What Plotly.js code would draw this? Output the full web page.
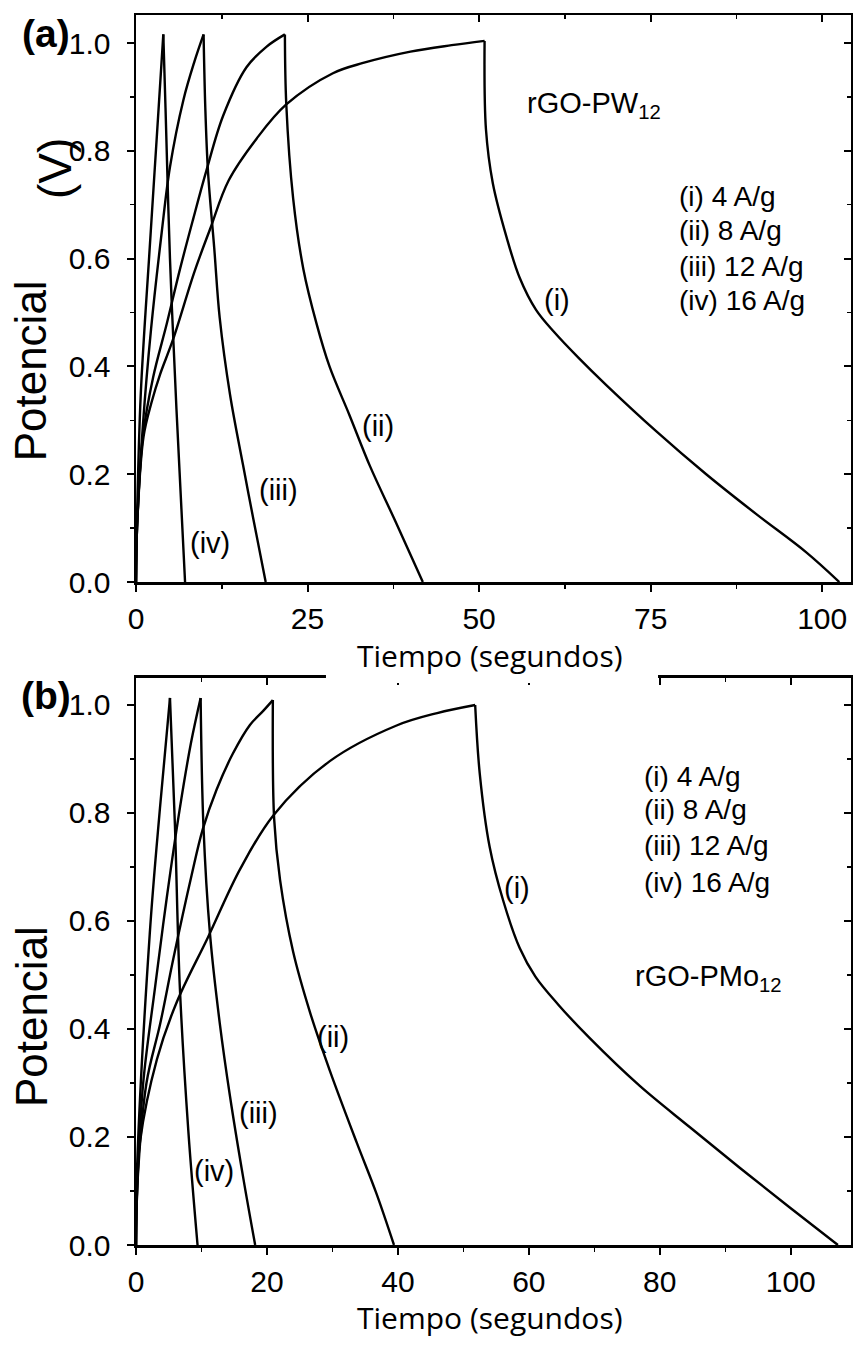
<!DOCTYPE html>
<html><head><meta charset="utf-8">
<script src="https://cdn.plot.ly/plotly-3.0.1.min.js"></script>
<style>html,body{margin:0;padding:0;background:#fff;}#chart{width:853px;height:1345px;}</style>
</head><body><div id="chart"></div>
<script>
// ---------- Panel (a): rGO-PW12 ----------
const a_i_chg_t  = [0, 0.15, 1.1, 2.3, 3.5, 5.4, 8.5, 10.8, 13.5, 17.6, 21.9, 28.7, 33.1, 40, 46, 50.8];
const a_i_chg_v  = [0, 0.1, 0.27, 0.335, 0.385, 0.45, 0.575, 0.655, 0.745, 0.823, 0.886, 0.944, 0.963, 0.984, 0.996, 1.004];
const a_i_dis_t  = [50.8, 51.0, 52.0, 54.0, 55.9, 58.3, 61.0, 64.5, 68.5, 75.8, 83.1, 90.4, 97.6, 102.5];
const a_i_dis_v  = [1.004, 0.84, 0.74, 0.64, 0.565, 0.505, 0.463, 0.416, 0.366, 0.28, 0.2, 0.126, 0.056, 0.0];
const a_ii_chg_t = [0, 0.15, 1.0, 2.5, 4.5, 6.4, 8.3, 10.3, 12.7, 16.1, 19.0, 21.7];
const a_ii_chg_v = [0, 0.1, 0.27, 0.38, 0.48, 0.58, 0.672, 0.765, 0.865, 0.955, 0.993, 1.016];
const a_ii_dis_t = [21.7, 21.9, 22.9, 24.4, 26.3, 28.2, 31.1, 34.1, 37.9, 41.8];
const a_ii_dis_v = [1.016, 0.887, 0.712, 0.58, 0.48, 0.40, 0.31, 0.215, 0.11, 0.0];
const a_iii_chg_t = [0, 0.15, 1.0, 2.2, 3.74, 4.95, 6.9, 8.5, 9.85];
const a_iii_chg_v = [0, 0.1, 0.29, 0.47, 0.648, 0.77, 0.894, 0.965, 1.016];
const a_iii_dis_t = [9.85, 10.1, 10.5, 11.4, 12.2, 13.7, 15.6, 17.1, 18.9];
const a_iii_dis_v = [1.016, 0.88, 0.76, 0.62, 0.49, 0.348, 0.217, 0.117, 0.0];
const a_iv_chg_t = [0, 0.15, 0.7, 2.0, 3.0, 3.98];
const a_iv_chg_v = [0, 0.12, 0.35, 0.62, 0.82, 1.016];
const a_iv_dis_t = [3.98, 4.3, 4.95, 5.9, 7.15];
const a_iv_dis_v = [1.016, 0.88, 0.6, 0.32, 0.0];

// ---------- Panel (b): rGO-PMo12 ----------
const b_i_chg_t  = [0, 0.2, 0.6, 3.2, 6.2, 11.0, 15.9, 21.0, 29.6, 39.8, 46, 51.8];
const b_i_chg_v  = [0, 0.11, 0.19, 0.344, 0.449, 0.57, 0.696, 0.796, 0.896, 0.962, 0.985, 1.0];
const b_i_dis_t  = [51.8, 52.5, 54.0, 56.1, 58.6, 61.0, 64.5, 69.3, 76.9, 84.6, 92.2, 99.8, 107.2];
const b_i_dis_v  = [1.0, 0.873, 0.738, 0.637, 0.55, 0.497, 0.445, 0.383, 0.295, 0.218, 0.143, 0.07, 0.0];
const b_ii_chg_t = [0, 0.2, 1.6, 3.7, 5.7, 8.5, 10.2, 12.3, 14.8, 17.4, 19.5, 20.9];
const b_ii_chg_v = [0, 0.11, 0.3, 0.41, 0.53, 0.685, 0.77, 0.843, 0.91, 0.963, 0.99, 1.009];
const b_ii_dis_t = [20.9, 21.1, 22.0, 24.0, 26.6, 29.6, 33.7, 36.7, 39.4];
const b_ii_dis_v = [1.009, 0.789, 0.676, 0.543, 0.43, 0.323, 0.19, 0.096, 0.0];
const b_iii_chg_t = [0, 0.2, 1.1, 2.9, 4.7, 6.7, 8.4, 9.87];
const b_iii_chg_v = [0, 0.11, 0.3, 0.476, 0.643, 0.809, 0.93, 1.013];
const b_iii_dis_t = [9.87, 10.3, 11.3, 12.8, 14.35, 16.4, 18.2];
const b_iii_dis_v = [1.013, 0.776, 0.576, 0.41, 0.276, 0.123, 0.0];
const b_iv_chg_t = [0, 0.1, 2.1, 3.66, 5.19];
const b_iv_chg_v = [0, 0.12, 0.576, 0.809, 1.013];
const b_iv_dis_t = [5.19, 5.95, 6.7, 8.0, 9.4];
const b_iv_dis_v = [1.013, 0.776, 0.476, 0.21, 0.0];

// ---------- Text ----------
const legendLines = ["(i) 4 A/g", "(ii) 8 A/g", "(iii) 12 A/g", "(iv) 16 A/g"];
const curveLabels = ["(i)", "(ii)", "(iii)", "(iv)"];
const xTicksA = [0, 25, 50, 75, 100];
const xTicksB = [0, 20, 40, 60, 80, 100];
const yTicks = [0, 0.2, 0.4, 0.6, 0.8, 1.0];
const xTitle = "Tiempo (segundos)";
const yTitle = "Potencial";

const AR = "Liberation Sans, Arial, sans-serif";
const lineStyle = {color: "#000", width: 2.4, shape: "spline", smoothing: 1.0};

function seg(t, v, xa, ya) {
  return {x: t, y: v, xaxis: xa, yaxis: ya, mode: "lines", line: lineStyle, hoverinfo: "skip", showlegend: false};
}
function frame(xa, ya) {
  return {x: [], y: [], xaxis: xa, yaxis: ya, mode: "lines", hoverinfo: "skip", showlegend: false};
}
const traces = [
  seg(a_i_chg_t, a_i_chg_v, "x", "y"), seg(a_i_dis_t, a_i_dis_v, "x", "y"),
  seg(a_ii_chg_t, a_ii_chg_v, "x", "y"), seg(a_ii_dis_t, a_ii_dis_v, "x", "y"),
  seg(a_iii_chg_t, a_iii_chg_v, "x", "y"), seg(a_iii_dis_t, a_iii_dis_v, "x", "y"),
  seg(a_iv_chg_t, a_iv_chg_v, "x", "y"), seg(a_iv_dis_t, a_iv_dis_v, "x", "y"),
  seg(b_i_chg_t, b_i_chg_v, "x2", "y2"), seg(b_i_dis_t, b_i_dis_v, "x2", "y2"),
  seg(b_ii_chg_t, b_ii_chg_v, "x2", "y2"), seg(b_ii_dis_t, b_ii_dis_v, "x2", "y2"),
  seg(b_iii_chg_t, b_iii_chg_v, "x2", "y2"), seg(b_iii_dis_t, b_iii_dis_v, "x2", "y2"),
  seg(b_iv_chg_t, b_iv_chg_v, "x2", "y2"), seg(b_iv_dis_t, b_iv_dis_v, "x2", "y2"),
  frame("x3", "y"), frame("x", "y3"), frame("x4", "y2"), frame("x2", "y4")
];

const tickFont = {family: AR, size: 30, color: "#000"};
function baseX(range, ticks, anchor, minorStep) {
  return {range: range, anchor: anchor, tickmode: "array", tickvals: ticks, ticktext: ticks.map(String),
    ticks: "outside", ticklen: 7, tickwidth: 2, tickcolor: "#000", showline: true, linewidth: 2.5, linecolor: "#000",
    showgrid: false, zeroline: false, tickfont: tickFont, ticklabelstandoff: 1, fixedrange: true,
    minor: {tickmode: "linear", tick0: 0, dtick: minorStep, ticks: "outside", ticklen: 4, tickwidth: 1.5, tickcolor: "#000", showgrid: false}};
}
function topX(range, ticks, over, anchor, minorStep) {
  return {overlaying: over, anchor: anchor, side: "top", range: range, tickmode: "array", tickvals: ticks,
    showticklabels: false, ticks: "inside", ticklen: 7, tickwidth: 2, tickcolor: "#000", showline: true,
    linewidth: 2.5, linecolor: "#000", showgrid: false, zeroline: false, fixedrange: true,
    minor: {tickmode: "linear", tick0: 0, dtick: minorStep, ticks: "inside", ticklen: 4, tickwidth: 1.5, tickcolor: "#000", showgrid: false}};
}
function baseY(range, domain, anchor) {
  return {range: range, domain: domain, anchor: anchor, tickmode: "array", tickvals: yTicks,
    ticktext: yTicks.map(v => v.toFixed(1)), ticks: "outside", ticklen: 7, tickwidth: 2, tickcolor: "#000",
    showline: true, linewidth: 2.5, linecolor: "#000", showgrid: false, zeroline: false, tickfont: tickFont,
    ticklabelstandoff: 10, fixedrange: true,
    minor: {tickmode: "linear", tick0: 0, dtick: 0.1, ticks: "outside", ticklen: 4, tickwidth: 1.5, tickcolor: "#000", showgrid: false}};
}
function rightY(range, over, anchor) {
  return {overlaying: over, anchor: anchor, side: "right", range: range, tickmode: "array", tickvals: yTicks,
    showticklabels: false, ticks: "inside", ticklen: 7, tickwidth: 2, tickcolor: "#000", showline: true,
    linewidth: 2.5, linecolor: "#000", showgrid: false, zeroline: false, fixedrange: true,
    minor: {tickmode: "linear", tick0: 0, dtick: 0.1, ticks: "inside", ticklen: 4, tickwidth: 1.5, tickcolor: "#000", showgrid: false}};
}

const rangeXA = [0, 104.2], rangeXB = [0, 109.2];
const rangeYA = [0, 1.052], rangeYB = [0, 1.05];
const domA = [0.539, 1], domB = [0, 0.461];

function txt(text, x, y, xref, yref, size, opts) {
  return Object.assign({text: text, x: x, y: y, xref: xref, yref: yref, showarrow: false,
    xanchor: "left", yanchor: "middle", font: {family: AR, size: size, color: "#000"}}, opts || {});
}

const legYA = [0.716, 0.653, 0.586, 0.523];
const legYB = [0.867, 0.806, 0.739, 0.672];
const titleFont = {family: "Open Sans, sans-serif", size: 30, color: "#000"};
const annotations = [
  txt("<b>(a)</b>", -0.126, 0.985, "paper", "paper", 39, {xanchor: "center"}),
  txt("<b>(b)</b>", -0.126, 0.447, "paper", "paper", 39, {xanchor: "center"}),
  txt(yTitle, -0.147, 0.711, "paper", "paper", 44, {xanchor: "center", textangle: -90}),
  txt("(V)", -0.113, 0.875, "paper", "paper", 46, {xanchor: "center", textangle: -90}),
  txt(yTitle, -0.147, 0.186, "paper", "paper", 44, {xanchor: "center", textangle: -90}),
  txt(xTitle, 0.495, 0.479, "paper", "paper", 30, {xanchor: "center", font: titleFont}),
  txt(xTitle, 0.495, -0.059, "paper", "paper", 30, {xanchor: "center", font: titleFont}),
  txt("rGO-PW<sub>12</sub>", 56.7, 0.885, "x", "y", 29),
  txt("rGO-PMo<sub>12</sub>", 75.9, 0.494, "x2", "y2", 29),
  txt(curveLabels[0], 59.2, 0.523, "x", "y", 29),
  txt(curveLabels[1], 32.7, 0.289, "x", "y", 29),
  txt(curveLabels[2], 17.6, 0.171, "x", "y", 29),
  txt(curveLabels[3], 7.6, 0.072, "x", "y", 29),
  txt(curveLabels[0], 55.9, 0.661, "x2", "y2", 29),
  txt(curveLabels[1], 27.3, 0.385, "x2", "y2", 29),
  txt(curveLabels[2], 15.4, 0.244, "x2", "y2", 29),
  txt(curveLabels[3], 8.6, 0.137, "x2", "y2", 29)
];
legendLines.forEach((s, k) => {
  annotations.push(txt(s, 78.9, legYA[k], "x", "y", 28));
  annotations.push(txt(s, 77.3, legYB[k], "x2", "y2", 28));
});

const layout = {
  width: 853, height: 1345, margin: {l: 136, r: 2, t: 15, b: 100},
  paper_bgcolor: "#fff", plot_bgcolor: "#fff", showlegend: false,
  xaxis: baseX(rangeXA, xTicksA, "y", 12.5),
  yaxis: baseY(rangeYA, domA, "x"),
  xaxis3: topX(rangeXA, xTicksA, "x", "y", 12.5),
  yaxis3: rightY(rangeYA, "y", "x"),
  xaxis2: baseX(rangeXB, xTicksB, "y2", 10),
  yaxis2: baseY(rangeYB, domB, "x2"),
  xaxis4: topX(rangeXB, xTicksB, "x2", "y2", 10),
  yaxis4: rightY(rangeYB, "y2", "x2"),
  annotations: annotations,
  shapes: [{type: "rect", xref: "paper", yref: "paper", x0: 0.2657, x1: 0.7301, y0: 0.4569, y1: 0.4655,
    fillcolor: "#fff", line: {width: 0}, layer: "above"}]
};

Plotly.newPlot("chart", traces, layout, {staticPlot: true, displayModeBar: false});
</script></body></html>
